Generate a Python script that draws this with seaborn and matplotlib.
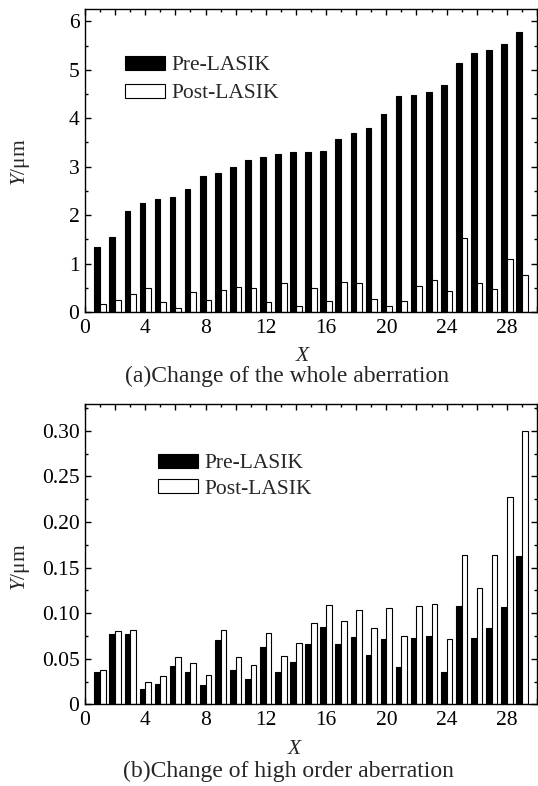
import numpy as np
import pandas as pd
import matplotlib
matplotlib.use("Agg")
import matplotlib.pyplot as plt
from matplotlib.ticker import MultipleLocator, FuncFormatter
import seaborn as sns

# ---------------- data ----------------
x_vals = list(range(1, 30))
series_names = ["Pre-LASIK", "Post-LASIK"]

pre_whole = [1.35, 1.55, 2.08, 2.26, 2.33, 2.38, 2.53, 2.80, 2.86, 3.00,
             3.13, 3.20, 3.27, 3.31, 3.31, 3.32, 3.58, 3.70, 3.79, 4.09,
             4.45, 4.49, 4.54, 4.69, 5.14, 5.34, 5.40, 5.53, 5.79]
post_whole = [0.17, 0.245, 0.38, 0.50, 0.20, 0.085, 0.41, 0.245, 0.455, 0.52,
              0.50, 0.20, 0.59, 0.12, 0.50, 0.23, 0.61, 0.59, 0.27, 0.12,
              0.23, 0.53, 0.66, 0.43, 1.53, 0.59, 0.48, 1.09, 0.76]

pre_high = [0.035, 0.077, 0.077, 0.017, 0.022, 0.042, 0.035, 0.021, 0.071, 0.038,
            0.028, 0.063, 0.035, 0.046, 0.066, 0.085, 0.066, 0.074, 0.054, 0.072,
            0.041, 0.073, 0.075, 0.035, 0.108, 0.073, 0.084, 0.107, 0.163]
post_high = [0.038, 0.080, 0.081, 0.024, 0.031, 0.052, 0.045, 0.032, 0.082, 0.052,
             0.043, 0.078, 0.053, 0.067, 0.089, 0.109, 0.091, 0.103, 0.084, 0.106,
             0.075, 0.108, 0.110, 0.072, 0.164, 0.127, 0.164, 0.227, 0.300]

title_a = "(a)Change of the whole aberration"
title_b = "(b)Change of high order aberration"

# ---------------- style ----------------
sns.set_style("ticks")
plt.rcParams["font.family"] = ["Liberation Serif", "DejaVu Serif"]
plt.rcParams["mathtext.fontset"] = "custom"
plt.rcParams["mathtext.rm"] = "Liberation Serif"
plt.rcParams["mathtext.it"] = "Liberation Serif:italic"
FS = 15.5
FS_T = 17

W, H = 538, 786
fig = plt.figure(figsize=(W / 100, H / 100), dpi=100)

def px_axes(left, top, right, bottom):
    return fig.add_axes([left / W, 1 - bottom / H, (right - left) / W, (bottom - top) / H])

ax1 = px_axes(85, 9.3, 537, 312)
ax2 = px_axes(85, 404.3, 537, 704.3)

palette = {"Pre-LASIK": "black", "Post-LASIK": "white"}

def make_df(pre, post):
    return pd.DataFrame({
        "X": x_vals * 2,
        "Y": pre + post,
        "Stage": [series_names[0]] * len(pre) + [series_names[1]] * len(post),
    })

def draw(ax, df, ylim, ymajor, yminor, yfmt, leg_xy, leg_space):
    sns.barplot(data=df, x="X", y="Y", hue="Stage", hue_order=series_names,
                native_scale=True, palette=palette, edgecolor="black",
                linewidth=0.8, width=0.75, saturation=1, errorbar=None, ax=ax)
    ax.set_xlim(0, 30)
    ax.set_ylim(*ylim)
    ax.set_xlabel("")
    ax.set_ylabel("")
    ax.xaxis.set_major_locator(MultipleLocator(2))
    ax.xaxis.set_minor_locator(MultipleLocator(1))
    ax.xaxis.set_major_formatter(FuncFormatter(lambda v, p: f"{int(round(v))}" if int(round(v)) % 4 == 0 else ""))
    ax.yaxis.set_major_locator(MultipleLocator(ymajor))
    ax.yaxis.set_minor_locator(MultipleLocator(yminor))
    ax.yaxis.set_major_formatter(FuncFormatter(yfmt))
    ax.tick_params(which="both", direction="in", top=True, right=True, width=1, colors="black")
    ax.tick_params(which="major", length=4)
    ax.tick_params(which="minor", length=2.2)
    ax.tick_params(axis="x", which="major", pad=5, labelsize=FS)
    ax.tick_params(axis="y", which="major", pad=4, labelsize=FS)
    for s in ax.spines.values():
        s.set_visible(True)
        s.set_linewidth(1.0)
        s.set_color("black")
    handles, labels = ax.get_legend_handles_labels()
    if ax.get_legend() is not None:
        ax.get_legend().remove()
    ax.legend(handles, labels, loc="upper left", frameon=False, fontsize=FS,
              bbox_to_anchor=(leg_xy[0] / W, 1 - leg_xy[1] / H),
              bbox_transform=fig.transFigure, borderpad=0, borderaxespad=0,
              handlelength=1.85, handleheight=0.6, handletextpad=0.3,
              labelspacing=leg_space)

draw(ax1, make_df(pre_whole, post_whole), (0, 6.25), 1, 0.5,
     lambda v, p: f"{v:.0f}", (125, 56), 0.4)
draw(ax2, make_df(pre_high, post_high), (0, 0.329), 0.05, 0.025,
     lambda v, p: "0" if abs(v) < 1e-9 else f"{v:.2f}", (158, 454), 0.27)

# axis labels and captions
fig.text(20 / W, 1 - 162 / H, r"$\mathit{Y}$/μm", rotation=90, ha="center", va="center", fontsize=FS)
fig.text(20 / W, 1 - 567 / H, r"$\mathit{Y}$/μm", rotation=90, ha="center", va="center", fontsize=FS)
fig.text(302 / W, 1 - 357 / H, "X", style="italic", ha="center", va="center", fontsize=FS)
fig.text(294 / W, 1 - 750 / H, "X", style="italic", ha="center", va="center", fontsize=FS)
fig.text(287 / W, 1 - 376 / H, title_a, ha="center", va="center", fontsize=FS_T)
fig.text(288 / W, 1 - 771 / H, title_b, ha="center", va="center", fontsize=FS_T)

fig.savefig("out.png", dpi=100, facecolor="white")
